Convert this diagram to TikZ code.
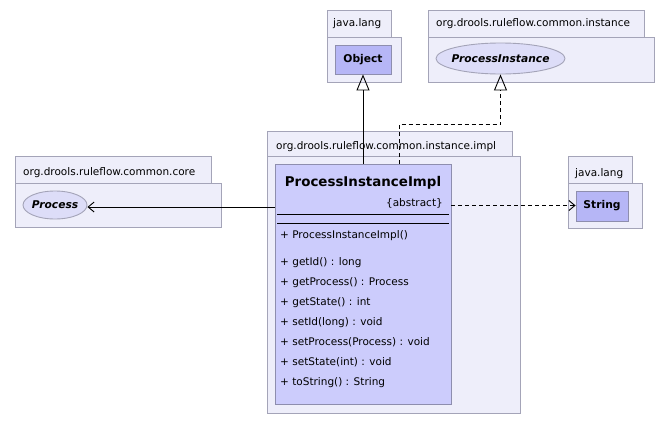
\documentclass[tikz,border=0pt]{standalone}
\usepackage{fontspec}
\setmainfont{DejaVu Sans}
\usetikzlibrary{arrows.meta,shapes.geometric}
\definecolor{pkgfill}{HTML}{EEEEFA}
\definecolor{pkgline}{HTML}{A4A4B8}
\definecolor{clsfill}{HTML}{CCCCFC}
\definecolor{clsline}{HTML}{8E8EAE}
\definecolor{reffill}{HTML}{B6B6F6}
\definecolor{ifcfill}{HTML}{DDDDF8}
\tikzset{
  pkg/.style={draw=pkgline, fill=pkgfill, line width=0.9pt},
  pkglabel/.style={anchor=base west, inner sep=0pt, font=\fontsize{10.5}{12}\selectfont},
  clsbox/.style={draw=clsline, fill=clsfill, line width=0.9pt},
  refbox/.style={draw=clsline, fill=reffill, line width=0.9pt, inner sep=0pt,
    font=\fontsize{10.7}{12}\selectfont\bfseries},
  ifc/.style={ellipse, draw=pkgline, fill=ifcfill, line width=0.9pt, inner sep=0pt},
  ifcname/.style={inner sep=0pt, font=\fontsize{10.7}{12}\selectfont\bfseries\itshape},
  member/.style={anchor=base west, inner sep=0pt, font=\fontsize{10.5}{12}\selectfont},
  conn/.style={line width=0.9pt, black},
  dep/.style={conn, dash pattern=on 4pt off 3pt},
  gen/.style={-{Triangle[open, length=16pt, width=13pt, line width=0.9pt]}},
  nav/.style={-{Straight Barb[length=6pt, width=10pt, line width=0.9pt]}}
}
\begin{document}
\begin{tikzpicture}[x=1pt, y=-1pt]
\useasboundingbox (0,0) rectangle (671,423);
\fill[white] (0,0) rectangle (671,423);

% package java.lang (Object)
\draw[pkg] (327,10) rectangle (391,37);
\draw[pkg] (327,37) rectangle (401,82);
\node[pkglabel] (pkgA) at (333,27) {java.lang};
\node[refbox, minimum width=56pt, minimum height=29pt] (obj) at (363,59.5) {Object};

% package org.drools.ruleflow.common.instance
\draw[pkg] (428,10) rectangle (644,37);
\draw[pkg] (428,37) rectangle (654,82);
\node[pkglabel] (pkgB) at (436,27) {org.drools.ruleflow.common.instance};
\node[ifc, minimum width=129pt, minimum height=31pt] (pi) at (500.5,58.5) {};
\node[ifcname] (piname) at (pi.center) {ProcessInstance};

% package org.drools.ruleflow.common.core
\draw[pkg] (15,156) rectangle (211,183);
\draw[pkg] (15,183) rectangle (221,227);
\node[pkglabel] (pkgC) at (23,175.5) {org.drools.ruleflow.common.core};
\node[ifc, minimum width=64pt, minimum height=28pt] (proc) at (55,205) {};
\node[ifcname] (procname) at (proc.center) {Process};

% package java.lang (String)
\draw[pkg] (568,156) rectangle (632,183);
\draw[pkg] (568,183) rectangle (642,228);
\node[pkglabel] (pkgD) at (575,176) {java.lang};
\node[refbox, minimum width=52pt, minimum height=30pt] (str) at (602,206) {String};

% package org.drools.ruleflow.common.instance.impl
\draw[pkg] (267,131) rectangle (512,156);
\draw[pkg] (267,156) rectangle (520,413);
\node[pkglabel] (pkgE) at (276,149) {org.drools.ruleflow.common.instance.impl};

% class ProcessInstanceImpl
\node[clsbox, minimum width=176pt, minimum height=240pt, inner sep=0pt] (cls) at (363,284) {};
\node[anchor=base, inner sep=0pt, font=\fontsize{13.4}{15}\selectfont\bfseries] (cname) at (363,186) {ProcessInstanceImpl};
\node[anchor=base east, inner sep=0pt, font=\fontsize{10.5}{12}\selectfont] (cabs) at (443,206) {\{abstract\}};
\draw[conn] (277,214) -- (449,214);
\draw[conn] (277,223) -- (449,223);
\node[member] (m0) at (280,238) {+ ProcessInstanceImpl()};
\node[member] (m1) at (280,265) {+ getId() : long};
\node[member] (m2) at (280,285) {+ getProcess() : Process};
\node[member] (m3) at (280,305) {+ getState() : int};
\node[member] (m4) at (280,325) {+ setId(long) : void};
\node[member] (m5) at (280,345) {+ setProcess(Process) : void};
\node[member] (m6) at (280,365) {+ setState(int) : void};
\node[member] (m7) at (280,385) {+ toString() : String};

% relations
\coordinate (genfoot) at (363,164);
\draw[conn, gen] (genfoot) -- (obj.south);
\coordinate (realfoot) at (399,164);
\coordinate (realbend) at (399,124.5);
\draw[dep, gen] (realfoot) -- (realbend) -| (pi.south);
\coordinate (assocfoot) at (275,207);
\draw[conn, nav] (assocfoot) -- (proc.east |- assocfoot);
\coordinate (depfoot) at (451,205.5);
\draw[dep, nav] (depfoot) -- (str.west |- depfoot);
\end{tikzpicture}
\end{document}
